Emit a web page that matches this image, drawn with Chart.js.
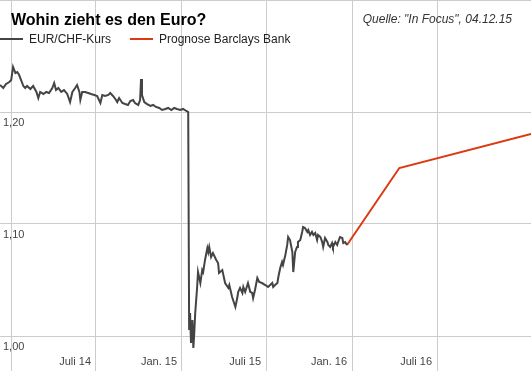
<!DOCTYPE html>
<html lang="de">
<head>
  <meta charset="utf-8" />
  <title>Wohin zieht es den Euro?</title>
  <script src="https://cdn.jsdelivr.net/npm/chart.js@4.4.1/dist/chart.umd.min.js"></script>
  <style>
    body { margin: 0; background: #fff; }
    #chart { display: block; }
  </style>
</head>
<body>
  <canvas id="chart" width="531" height="371"></canvas>
  <script>
    // EUR/CHF-Kurs
    const kursDates = [
      '2013-12-08', '2013-12-15', '2013-12-21', '2013-12-28', '2014-01-01', '2014-01-05', '2014-01-10', '2014-01-14',
      '2014-01-18', '2014-01-22', '2014-01-27', '2014-01-31', '2014-02-04', '2014-02-11', '2014-02-17', '2014-02-24',
      '2014-02-28', '2014-03-04', '2014-03-11', '2014-03-17', '2014-03-23', '2014-03-30', '2014-04-03', '2014-04-07',
      '2014-04-12', '2014-04-18', '2014-04-24', '2014-05-01', '2014-05-07', '2014-05-12', '2014-05-18', '2014-05-22',
      '2014-05-27', '2014-05-29', '2014-06-02', '2014-06-08', '2014-06-15', '2014-06-21', '2014-06-28', '2014-07-04',
      '2014-07-11', '2014-07-15', '2014-07-21', '2014-07-28', '2014-08-01', '2014-08-07', '2014-08-12', '2014-08-16',
      '2014-08-20', '2014-08-27', '2014-09-02', '2014-09-08', '2014-09-13', '2014-09-19', '2014-09-23', '2014-09-30',
      '2014-10-04', '2014-10-06', '2014-10-08', '2014-10-13', '2014-10-19', '2014-10-26', '2014-11-01', '2014-11-07',
      '2014-11-14', '2014-11-20', '2014-11-27', '2014-12-03', '2014-12-10', '2014-12-16', '2014-12-22', '2014-12-29',
      '2015-01-04', '2015-01-11', '2015-01-15', '2015-01-17', '2015-01-19', '2015-01-21', '2015-01-24', '2015-01-26',
      '2015-01-28', '2015-01-30', '2015-02-03', '2015-02-05', '2015-02-10', '2015-02-14', '2015-02-16', '2015-02-20',
      '2015-02-25', '2015-02-27', '2015-03-01', '2015-03-05', '2015-03-09', '2015-03-16', '2015-03-20', '2015-03-22',
      '2015-03-29', '2015-04-04', '2015-04-11', '2015-04-13', '2015-04-19', '2015-04-26', '2015-04-30', '2015-05-02',
      '2015-05-06', '2015-05-11', '2015-05-13', '2015-05-17', '2015-05-23', '2015-05-28', '2015-06-01', '2015-06-03',
      '2015-06-07', '2015-06-12', '2015-06-16', '2015-06-22', '2015-06-29', '2015-07-05', '2015-07-14', '2015-07-16',
      '2015-07-20', '2015-07-25', '2015-07-27', '2015-07-31', '2015-08-04', '2015-08-06', '2015-08-11', '2015-08-15',
      '2015-08-17', '2015-08-21', '2015-08-26', '2015-08-28', '2015-09-01', '2015-09-05', '2015-09-07', '2015-09-12',
      '2015-09-16', '2015-09-18', '2015-09-22', '2015-09-27', '2015-09-29', '2015-10-03', '2015-10-07', '2015-10-10',
      '2015-10-14', '2015-10-18', '2015-10-20', '2015-10-25', '2015-10-29', '2015-10-31', '2015-11-04', '2015-11-09',
      '2015-11-11', '2015-11-15', '2015-11-19', '2015-11-21', '2015-11-26', '2015-11-30', '2015-12-02', '2015-12-06',
      '2015-12-11', '2015-12-13', '2015-12-17', '2015-12-21'
    ];
    const kursValues = [
      1.2241, 1.2214, 1.2250, 1.2268, 1.2286, 1.2402, 1.2348, 1.2357,
      1.2330, 1.2286, 1.2232, 1.2214, 1.2232, 1.2205, 1.2232, 1.2179,
      1.2125, 1.2179, 1.2161, 1.2179, 1.2170, 1.2214, 1.2259, 1.2196,
      1.2214, 1.2179, 1.2196, 1.2161, 1.2089, 1.2179, 1.2214, 1.2241,
      1.2179, 1.2107, 1.2179, 1.2179, 1.2170, 1.2161, 1.2152, 1.2143,
      1.2080, 1.2152, 1.2143, 1.2152, 1.2170, 1.2143, 1.2116, 1.2089,
      1.2125, 1.2080, 1.2071, 1.2063, 1.2098, 1.2107, 1.2080, 1.2063,
      1.2107, 1.2295, 1.2152, 1.2089, 1.2071, 1.2054, 1.2063, 1.2045,
      1.2036, 1.2018, 1.2027, 1.2036, 1.2018, 1.2036, 1.2027, 1.2018,
      1.2027, 1.2009, 1.2000, 1.0054, 1.0205, 0.9938, 1.0143, 0.9893,
      1.0030, 1.0205, 1.0429, 1.0571, 1.0473, 1.0589, 1.0571, 1.0679,
      1.0786, 1.0750, 1.0795, 1.0705, 1.0741, 1.0679, 1.0652, 1.0563,
      1.0589, 1.0473, 1.0429, 1.0455, 1.0348, 1.0259, 1.0339, 1.0393,
      1.0429, 1.0384, 1.0438, 1.0393, 1.0473, 1.0393, 1.0384, 1.0339,
      1.0411, 1.0518, 1.0482, 1.0473, 1.0455, 1.0438, 1.0473, 1.0438,
      1.0455, 1.0473, 1.0527, 1.0607, 1.0661, 1.0634, 1.0723, 1.0813,
      1.0884, 1.0857, 1.0750, 1.0571, 1.0750, 1.0795, 1.0839, 1.0857,
      1.0929, 1.0973, 1.0964, 1.0929, 1.0946, 1.0902, 1.0929, 1.0902,
      1.0920, 1.0857, 1.0902, 1.0884, 1.0839, 1.0795, 1.0875, 1.0839,
      1.0813, 1.0795, 1.0830, 1.0795, 1.0839, 1.0813, 1.0839, 1.0884,
      1.0875, 1.0830, 1.0839, 1.0813
    ];

    // Prognose Barclays Bank
    const prognoseDates = ['2015-12-21', '2016-04-11', '2017-01-18'];
    const prognoseValues = [1.0813, 1.1500, 1.1804];

    // axis ticks
    const xTickDates = ['2014-01-01', '2014-07-01', '2015-01-01', '2015-07-01', '2016-01-01', '2016-07-01'];
    const xTickLabels = ['', 'Juli 14', 'Jan. 15', 'Juli 15', 'Jan. 16', 'Juli 16'];
    const yTickValues = [1.00, 1.10, 1.20, 1.30];
    const yTickLabels = ['1,00', '1,10', '1,20', ''];

    const xMinDate = '2013-12-08';
    const xMaxDate = '2017-01-18';

    function ts(s) {
      const p = s.split('-');
      return Date.UTC(+p[0], +p[1] - 1, +p[2]);
    }

    const FONT = 'Arial, "Liberation Sans", sans-serif';

    // tick labels, title and legend drawn on top
    const overlay = {
      id: 'overlay',
      afterDraw(chart) {
        const c = chart.ctx;
        const sx = chart.scales.x, sy = chart.scales.y;
        c.save();
        c.fillStyle = '#444';
        c.font = '11px ' + FONT;
        c.textBaseline = 'alphabetic';
        c.textAlign = 'left';
        yTickValues.forEach((v, i) => {
          if (!yTickLabels[i]) return;
          c.fillText(yTickLabels[i], 3, Math.round(sy.getPixelForValue(v)) + 14);
        });
        c.textAlign = 'right';
        xTickDates.forEach((d, i) => {
          if (!xTickLabels[i]) return;
          c.fillText(xTickLabels[i], Math.round(sx.getPixelForValue(ts(d))) - 5, 365);
        });

        // title
        c.textAlign = 'left';
        c.fillStyle = '#000';
        c.font = 'bold 16px ' + FONT;
        c.fillText('Wohin zieht es den Euro?', 11, 25);
        c.fillStyle = '#333';
        c.font = 'italic 12px ' + FONT;
        c.textAlign = 'right';
        c.fillText('Quelle: "In Focus", 04.12.15', 512, 23);

        // legend
        c.textAlign = 'left';
        c.font = '12px ' + FONT;
        const items = [
          { x: 0, color: '#444444', text: 'EUR/CHF-Kurs' },
          { x: 130, color: '#dc3912', text: 'Prognose Barclays Bank' }
        ];
        items.forEach(it => {
          c.strokeStyle = it.color;
          c.lineWidth = 2;
          c.beginPath();
          c.moveTo(it.x, 39);
          c.lineTo(it.x + 23, 39);
          c.stroke();
          c.fillStyle = '#222';
          c.fillText(it.text, it.x + 29, 43);
        });
        c.restore();
      }
    };

    const ctx = document.getElementById('chart').getContext('2d');
    const chart = new Chart(ctx, {
      type: 'line',
      data: {
        datasets: [{
          label: 'EUR/CHF-Kurs',
          data: kursDates.map((d, i) => ({ x: ts(d), y: kursValues[i] })),
          borderColor: '#444444',
          borderWidth: 2,
          pointRadius: 0,
          tension: 0
        }, {
          label: 'Prognose Barclays Bank',
          data: prognoseDates.map((d, i) => ({ x: ts(d), y: prognoseValues[i] })),
          borderColor: '#dc3912',
          borderWidth: 2,
          pointRadius: 0,
          tension: 0
        }]
      },
      options: {
        responsive: false,
        animation: false,
        layout: { padding: 0 },
        plugins: {
          legend: { display: false },
          title: { display: false },
          tooltip: { enabled: false }
        },
        scales: {
          x: {
            type: 'linear',
            min: ts(xMinDate),
            max: ts(xMaxDate),
            afterBuildTicks: axis => { axis.ticks = xTickDates.map(d => ({ value: ts(d) })); },
            ticks: { display: false },
            grid: { color: '#cccccc', drawTicks: false },
            border: { display: false }
          },
          y: {
            min: 0.96875,
            max: 1.30,
            afterBuildTicks: axis => { axis.ticks = yTickValues.map(v => ({ value: v })); },
            ticks: { display: false },
            grid: { color: '#cccccc', drawTicks: false },
            border: { display: false }
          }
        }
      },
      plugins: [overlay]
    });
  </script>
</body>
</html>
